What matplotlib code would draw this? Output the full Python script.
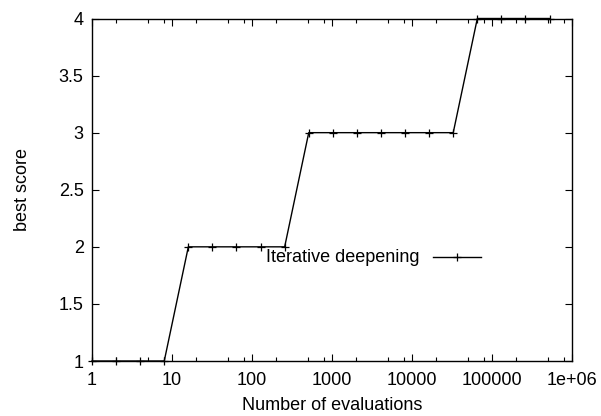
import matplotlib
matplotlib.use("Agg")
import matplotlib.pyplot as plt
from matplotlib.lines import Line2D
from matplotlib.ticker import FixedLocator, FixedFormatter, NullFormatter

plt.rcParams['font.family'] = ['Liberation Sans', 'DejaVu Sans']

# Evaluation budgets (powers of two) and best score reached
evaluations = [1, 2, 4, 8, 16, 32, 64, 128, 256, 512, 1024, 2048, 4096, 8192,
               16384, 32768, 65536, 131072, 262144, 524288]
best_score = [1, 1, 1, 1, 2, 2, 2, 2, 2, 3, 3, 3, 3, 3, 3, 3, 4, 4, 4, 4]

x_ticks = [1, 10, 100, 1000, 10000, 100000, 1000000]
x_tick_labels = ['1', '10', '100', '1000', '10000', '100000', '1e+06']
y_ticks = [1, 1.5, 2, 2.5, 3, 3.5, 4]
y_tick_labels = ['1', '1.5', '2', '2.5', '3', '3.5', '4']
series_label = 'Iterative deepening'

FS = 13
W, H = 601, 416
fig = plt.figure(figsize=(W / 100, H / 100), dpi=100)
ax = fig.add_axes([92 / W, 1 - 361 / H, (572 - 92) / W, (361 - 18.5) / H])

ax.plot(evaluations, best_score, color='black', lw=1.0, marker='+',
        markersize=5.5, markeredgewidth=0.9, clip_on=False, zorder=3)

ax.set_xscale('log')
ax.set_xlim(1, 1e6)
ax.set_ylim(1, 4)

ax.xaxis.set_major_locator(FixedLocator(x_ticks))
ax.xaxis.set_major_formatter(FixedFormatter(x_tick_labels))
minor = [m * 10 ** d for d in range(6) for m in (2, 5, 8)]
ax.xaxis.set_minor_locator(FixedLocator(minor))
ax.xaxis.set_minor_formatter(NullFormatter())
ax.yaxis.set_major_locator(FixedLocator(y_ticks))
ax.yaxis.set_major_formatter(FixedFormatter(y_tick_labels))

ax.tick_params(which='major', direction='in', length=5, width=0.8,
               top=True, right=True, labelsize=FS, pad=6, colors='black')
ax.tick_params(axis='x', which='major', pad=8)
ax.tick_params(which='minor', direction='in', length=3, width=0.8,
               top=True, bottom=True)
ax.tick_params(axis='y', which='minor', left=False, right=False)

for s in ax.spines.values():
    s.set_linewidth(1.0)
    s.set_color('black')

ax.set_xlabel('Number of evaluations', fontsize=FS, labelpad=6)
ax.set_ylabel('best score', fontsize=FS, labelpad=20)

# Key placed inside the plot area
key_y = 1 - 258 / H
fig.text(419 / W, key_y, series_label, ha='right', va='center', fontsize=FS)
fig.add_artist(Line2D([433 / W, 481 / W], [1 - 256.5 / H] * 2,
                      transform=fig.transFigure, color='black', lw=1.0))
fig.add_artist(Line2D([457 / W], [1 - 256.5 / H], transform=fig.transFigure,
                      color='black', marker='+', markersize=5.5,
                      markeredgewidth=0.9, lw=0))

fig.savefig('out.png', dpi=100)
